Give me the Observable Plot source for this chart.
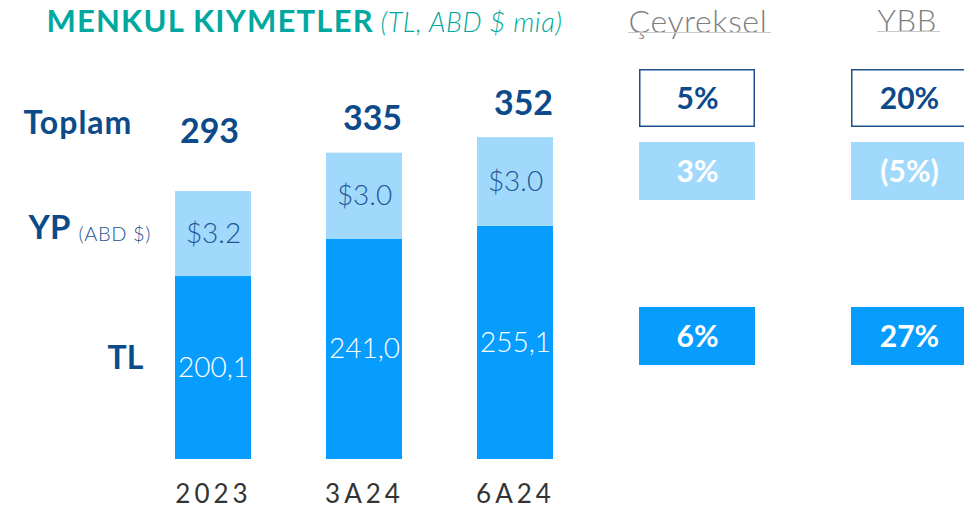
<!DOCTYPE html>
<html>
<head>
<meta charset="utf-8">
<script src="https://cdn.jsdelivr.net/npm/d3@7"></script>
<script src="https://cdn.jsdelivr.net/npm/@observablehq/plot@0.6"></script>
<style>
  html, body { margin: 0; padding: 0; background: #fff; }
  #chart { position: relative; width: 964px; height: 507px; overflow: hidden; font-family: Lato, "Open Sans", sans-serif; }
  #chart svg { position: absolute; overflow: hidden; }
  .uline { position: absolute; height: 1px; background: #c9c9c9; }
  .row { position: absolute; left: 600px; width: 364px; height: 58px; }
  g[aria-description=cats] text { letter-spacing: 4px; }
  g[aria-description=title] text { letter-spacing: 1.2px; }
  g[aria-description=subtitle] text { letter-spacing: 0.6px; }
  g[aria-description=toplam] text { letter-spacing: 1px; }
  g[aria-description=abd] text { letter-spacing: 0.6px; }
  g[aria-description=hdr] text { letter-spacing: 0.6px; }
</style>
</head>
<body>
<div id="chart"></div>
<script>
// ---- data ----
const categories = ["2023", "3A24", "6A24"];
const tlValues = [200.1, 241.0, 255.1];
const totalValues = [293, 335, 352];
const ypUsd = [3.2, 3.0, 3.0];
const tlLabels = ["200,1", "241,0", "255,1"];
const ypLabels = ["$3.2", "$3.0", "$3.0"];
const periods = ["Çeyreksel", "YBB"];
const toplamGrowth = ["5%", "20%"];
const ypGrowth = ["3%", "(5%)"];
const tlGrowth = ["6%", "27%"];

// ---- colours ----
const BRIGHT = "#069dff";
const LIGHT = "#a0d9fc";
const DARK = "#0c4a8a";
const TEAL = "#00a8a0";

const rows = categories.map((c, i) => ({
  cat: c, tl: tlValues[i], total: totalValues[i], usd: ypUsd[i],
  tlLabel: tlLabels[i], ypLabel: ypLabels[i]
}));

const chart = document.getElementById("chart");

const anno = (text, x, y, opts) => Plot.text([text], {
  frameAnchor: "top-left", dx: x, dy: y, lineAnchor: "bottom", textAnchor: "start", ...opts
});

const main = Plot.plot({
  width: 964, height: 507,
  marginTop: 0, marginBottom: 48, marginLeft: 0, marginRight: 0,
  x: { domain: categories, range: [99.5, 628], padding: 0.5, axis: null },
  y: { domain: [0, 502], axis: null },
  style: { fontFamily: "Lato, 'Open Sans', sans-serif", background: "transparent", overflow: "hidden" },
  marks: [
    Plot.barY(rows, { x: "cat", y1: 0, y2: "tl", fill: BRIGHT }),
    Plot.barY(rows, { x: "cat", y1: "tl", y2: "total", fill: LIGHT }),
    Plot.text(rows, { x: "cat", y: d => (d.tl) / 2, text: "tlLabel", fill: "white", fontSize: 28, fontWeight: 300 }),
    Plot.text(rows, { x: "cat", y: d => (d.tl + d.total) / 2, text: "ypLabel", fill: "#1f5596", fontSize: 28, fontWeight: 300 }),
    Plot.text(rows.slice(0, 1), { x: "cat", y: "total", text: d => String(d.total), dy: -49, dx: -4, lineAnchor: "bottom", fill: DARK, fontSize: 34, fontWeight: 700 }),
    Plot.text(rows.slice(1), { x: "cat", y: "total", text: d => String(d.total), dy: -23, dx: 8, lineAnchor: "bottom", fill: DARK, fontSize: 34, fontWeight: 700 }),
    Plot.text(rows, { x: "cat", y: 0, text: "cat", dy: 43, dx: 0, lineAnchor: "bottom", fill: "#333", fontSize: 26, fontWeight: 400, ariaDescription: "cats" }),
    // title
    anno("MENKUL KIYMETLER", 46, 31, { fill: TEAL, fontSize: 31, fontWeight: 700, ariaDescription: "title" }),
    anno("(TL, ABD $ mia)", 380, 31, { fill: TEAL, fontSize: 27, fontWeight: 300, fontStyle: "italic", ariaDescription: "subtitle" }),
    // headers
    anno(periods[0], 628, 32.5, { fill: "#7f7f7f", fontSize: 32, fontWeight: 300, ariaDescription: "hdr" }),
    anno(periods[1], 877, 31.5, { fill: "#7f7f7f", fontSize: 31, fontWeight: 300, ariaDescription: "hdr" }),
    // row labels
    anno("Toplam", 23, 133, { fill: DARK, fontSize: 32, fontWeight: 700, ariaDescription: "toplam" }),
    anno("YP", 28, 238, { fill: DARK, fontSize: 33, fontWeight: 700 }),
    anno("(ABD $)", 78, 240, { fill: "#1f5596", fontSize: 20, fontWeight: 300, ariaDescription: "abd" }),
    anno("TL", 107, 368, { fill: DARK, fontSize: 32, fontWeight: 700 })
  ]
});
main.style.left = "0px";
main.style.top = "0px";
chart.appendChild(main);

// header underlines
[[628, 32, 143], [877, 31, 63]].forEach(([l, t, w]) => {
  const d = document.createElement("div");
  d.className = "uline";
  d.style.left = l + "px"; d.style.top = t + "px"; d.style.width = w + "px";
  chart.appendChild(d);
});

// growth table rows
function growthRow(values, top, fill, stroke, textFill) {
  const data = periods.map((p, i) => ({ period: p, value: values[i] }));
  const p = Plot.plot({
    width: 364, height: 58,
    margin: 0,
    x: { domain: periods, range: [38, 367], paddingInner: 0.455, paddingOuter: 0, axis: null },
    style: { fontFamily: "Lato, 'Open Sans', sans-serif", background: "transparent", overflow: "hidden" },
    marks: [
      Plot.cell(data, { x: "period", fill, stroke, strokeWidth: stroke === "none" ? 0 : 1.5, inset: stroke === "none" ? 0 : 0.75 }),
      Plot.text(data, { x: "period", text: "value", fill: textFill, fontSize: 30, fontWeight: 700, frameAnchor: "middle", dy: 1 })
    ]
  });
  const wrap = document.createElement("div");
  wrap.className = "row";
  wrap.style.top = top + "px";
  p.style.position = "absolute"; p.style.left = "0"; p.style.top = "0";
  wrap.appendChild(p);
  chart.appendChild(wrap);
}
growthRow(toplamGrowth, 69, "white", "#1f4e8c", DARK);
growthRow(ypGrowth, 142, LIGHT, "none", "white");
growthRow(tlGrowth, 307, BRIGHT, "none", "white");
</script>
</body>
</html>
